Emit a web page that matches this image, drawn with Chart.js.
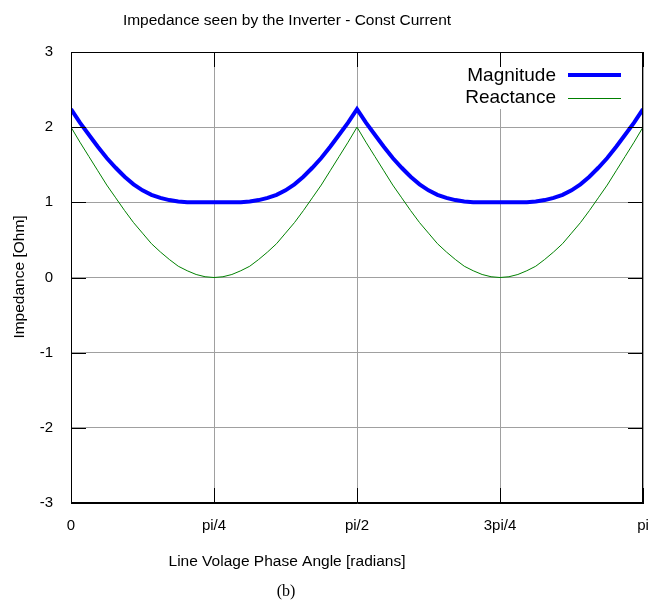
<!DOCTYPE html>
<html>
<head>
<meta charset="utf-8">
<script src="https://cdn.jsdelivr.net/npm/chart.js@4"></script>
<style>
  body { margin: 0; background: #fff; }
  canvas { display: block; }
</style>
</head>
<body>
<canvas id="chart" width="649" height="605"></canvas>
<script>
var magnitude = [
  2.24, 2.06, 1.90, 1.74, 1.59, 1.46, 1.34, 1.24, 1.16, 1.10, 1.06, 1.03, 1.01, 1.00, 1.00, 1.00, 1.00,
  1.00, 1.00, 1.00, 1.01, 1.03, 1.06, 1.10, 1.16, 1.24, 1.34, 1.46, 1.59, 1.74, 1.90, 2.06, 2.24,
  2.06, 1.90, 1.74, 1.59, 1.46, 1.34, 1.24, 1.16, 1.10, 1.06, 1.03, 1.01, 1.00, 1.00, 1.00, 1.00,
  1.00, 1.00, 1.00, 1.01, 1.03, 1.06, 1.10, 1.16, 1.24, 1.34, 1.46, 1.59, 1.74, 1.90, 2.06, 2.24
];
var reactance = [
  2.00, 1.80, 1.61, 1.42, 1.23, 1.06, 0.89, 0.73, 0.59, 0.45, 0.34, 0.24, 0.15, 0.09, 0.04, 0.01, 0.00,
  0.01, 0.04, 0.09, 0.15, 0.24, 0.34, 0.45, 0.59, 0.73, 0.89, 1.06, 1.23, 1.42, 1.61, 1.80, 2.00,
  1.80, 1.61, 1.42, 1.23, 1.06, 0.89, 0.73, 0.59, 0.45, 0.34, 0.24, 0.15, 0.09, 0.04, 0.01, 0.00,
  0.01, 0.04, 0.09, 0.15, 0.24, 0.34, 0.45, 0.59, 0.73, 0.89, 1.06, 1.23, 1.42, 1.61, 1.80, 2.00
];
var xTickLabels = ["0", "pi/4", "pi/2", "3pi/4", "pi"];
var yTicks = [-3, -2, -1, 0, 1, 2, 3];

var titleText = "Impedance seen by the Inverter - Const Current";
var xTitle = "Line Volage Phase Angle [radians]";
var yTitle = "Impedance [Ohm]";
var caption = "(b)";
var legendNames = ["Magnitude", "Reactance"];

var SANS = '"Liberation Sans", Arial, Helvetica, sans-serif';

// build {x,y} points, angle step pi/64
const toPoints = (vals) => vals.map((v, i) => ({ x: (i * Math.PI) / (vals.length - 1), y: v }));

// gnuplot look: inward tics, full border, key with text then sample, texts
const decor = {
  id: "decor",
  beforeDatasetsDraw(chart) {
    var ctx = chart.ctx;
    // opaque key box
    ctx.save();
    ctx.fillStyle = "#fff";
    ctx.fillRect(460, 66, 172, 43);
    ctx.restore();
  },
  afterDraw(chart) {
    var ctx = chart.ctx;
    var a = chart.chartArea;
    var x = chart.scales.x;
    var y = chart.scales.y;
    ctx.save();

    // tics pointing inward
    ctx.strokeStyle = "#000";
    ctx.lineWidth = 1;
    ctx.beginPath();
    y.ticks.forEach((t) => {
      var py = Math.round(y.getPixelForValue(t.value)) + 0.5;
      ctx.moveTo(a.left, py);
      ctx.lineTo(a.left + 15, py);
      ctx.moveTo(a.right, py);
      ctx.lineTo(a.right - 15, py);
    });
    x.ticks.forEach((t) => {
      var px = Math.round(x.getPixelForValue(t.value)) + 0.5;
      ctx.moveTo(px, a.bottom);
      ctx.lineTo(px, a.bottom - 15);
      ctx.moveTo(px, a.top);
      ctx.lineTo(px, a.top + 15);
    });
    ctx.stroke();
    ctx.strokeRect(Math.round(a.left) + 0.5, Math.round(a.top) + 0.5, Math.round(a.width) - 1, Math.round(a.height) - 1);

    // key
    ctx.fillStyle = "#000";
    ctx.font = "19px " + SANS;
    ctx.textAlign = "right";
    ctx.textBaseline = "alphabetic";
    ctx.fillText(legendNames[0], 556, 81);
    ctx.fillText(legendNames[1], 556, 103);
    ctx.lineWidth = 4;
    ctx.strokeStyle = "#0000ff";
    ctx.beginPath();
    ctx.moveTo(568, 75);
    ctx.lineTo(621, 75);
    ctx.stroke();
    ctx.lineWidth = 1;
    ctx.strokeStyle = "#008000";
    ctx.beginPath();
    ctx.moveTo(568, 98.5);
    ctx.lineTo(621, 98.5);
    ctx.stroke();

    // titles
    ctx.textAlign = "center";
    ctx.font = "15.5px " + SANS;
    ctx.fillText(titleText, 287, 25);
    ctx.fillText(xTitle, 287, 566);
    ctx.font = '16px "Liberation Serif", "Times New Roman", serif';
    ctx.fillText(caption, 286, 596);

    ctx.translate(20, 277);
    ctx.rotate(-Math.PI / 2);
    ctx.font = "15.5px " + SANS;
    ctx.textBaseline = "middle";
    ctx.fillText(yTitle, 0, 0);
    ctx.restore();
  },
};

var ctx = document.getElementById("chart").getContext("2d");
var chart = new Chart(ctx, {
  type: "line",
  data: {
    datasets: [
      {
        label: legendNames[0],
        data: toPoints(magnitude),
        borderColor: "#0000ff",
        borderWidth: 4,
        borderJoinStyle: "miter",
        pointRadius: 0,
        tension: 0,
        fill: false,
      },
      {
        label: legendNames[1],
        data: toPoints(reactance),
        borderColor: "#008000",
        borderWidth: 1,
        borderJoinStyle: "miter",
        pointRadius: 0,
        tension: 0,
        fill: false,
      },
    ],
  },
  options: {
    responsive: false,
    animation: false,
    layout: { padding: { top: 52, right: 6, left: 0, bottom: 0 } },
    plugins: {
      legend: { display: false },
      title: { display: false },
      tooltip: { enabled: false },
    },
    scales: {
      x: {
        type: "linear",
        min: 0,
        max: Math.PI,
        afterBuildTicks: (s) => {
          s.ticks = xTickLabels.map((_, i) => ({ value: (i * Math.PI) / 4 }));
        },
        afterFit: (s) => {
          s.height = 102;
          s.paddingLeft = 0;
          s.paddingRight = 0;
        },
        ticks: {
          autoSkip: false,
          maxRotation: 0,
          padding: 14,
          color: "#000",
          font: { family: SANS, size: 15 },
          callback: (v, i) => xTickLabels[i],
        },
        grid: { color: "#a0a0a0", drawTicks: false },
        border: { display: true, color: "#000" },
      },
      y: {
        min: yTicks[0],
        max: yTicks[yTicks.length - 1],
        afterFit: (s) => {
          s.width = 71;
          s.paddingTop = 0;
          s.paddingBottom = 0;
        },
        ticks: {
          stepSize: 1,
          padding: 18,
          color: "#000",
          font: { family: SANS, size: 15 },
        },
        grid: { color: "#a0a0a0", drawTicks: false },
        border: { display: true, color: "#000" },
      },
    },
  },
  plugins: [decor],
});
</script>
</body>
</html>
